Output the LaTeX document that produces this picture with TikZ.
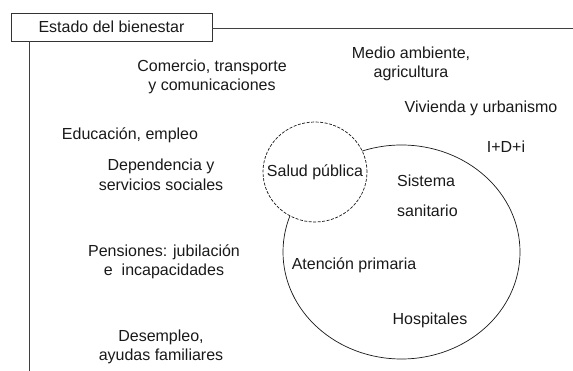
\documentclass[tikz,border=0pt]{standalone}
\usepackage{fontspec}
\setmainfont{Liberation Sans}
\usepackage{xcolor}
\usepackage{tikz}
\usetikzlibrary{shapes.geometric}

\tikzset{
  txt/.style={align=center, inner sep=0pt, text=black!90, font=\fontsize{16}{19.5}\selectfont},
  frame/.style={txt, draw=black!80, line width=0.7pt, minimum width=201pt, minimum height=28pt},
  ring/.style={draw=black!90, line width=0.7pt, ellipse, inner sep=0pt},
  dashring/.style={ring, dash pattern=on 3pt off 1.5pt, fill=white}
}

\begin{document}
\begin{tikzpicture}[x=1pt, y=-1pt]

    \useasboundingbox (0,0) rectangle (573,371);

    %coordinates
    \coordinate (R) at (573,28); % right end of top line
    \coordinate (B) at (29,371); % bottom end of left line

    %title box
    \node[frame] (estado) at (111.5,27) {Estado del bienestar};

    %frame lines
    \draw[line width=0.7pt, black!75] (estado.east |- R) -- (R);
    \draw[line width=0.7pt, black!75] (estado.south -| B) -- (B);

    %circles
    \node[ring, minimum width=237pt, minimum height=214pt] (sanidad) at (401.5,252) {};
    \node[dashring, minimum width=104pt, minimum height=100pt] (salud) at (315,172) {};
    \node[txt] (saludtxt) at (salud) {Salud pública};

    %inside the big circle
    \node[txt, align=left, anchor=west] (sistema) at (397,196) {Sistema\\[11pt]sanitario};
    \node[txt] (primaria) at (354,265) {Atención primaria};
    \node[txt] (hospitales) at (430,320) {Hospitales};

    %areas
    \node[txt] (comercio) at (212,77) {Comercio, transporte\\y comunicaciones};
    \node[txt] (medio) at (411,64) {Medio ambiente,\\agricultura};
    \node[txt] (vivienda) at (481,108) {Vivienda y urbanismo};
    \node[txt] (idi) at (506,147) {I+D+i};
    \node[txt] (educacion) at (130,135) {Educación, empleo};
    \node[txt] (dependencia) at (161,175) {Dependencia y\\servicios sociales};
    \node[txt] (pensiones) at (164,262) {Pensiones: jubilación\\e\ \ incapacidades};
    \node[txt] (desempleo) at (161,347) {Desempleo,\\ayudas familiares};

\end{tikzpicture}
\end{document}
